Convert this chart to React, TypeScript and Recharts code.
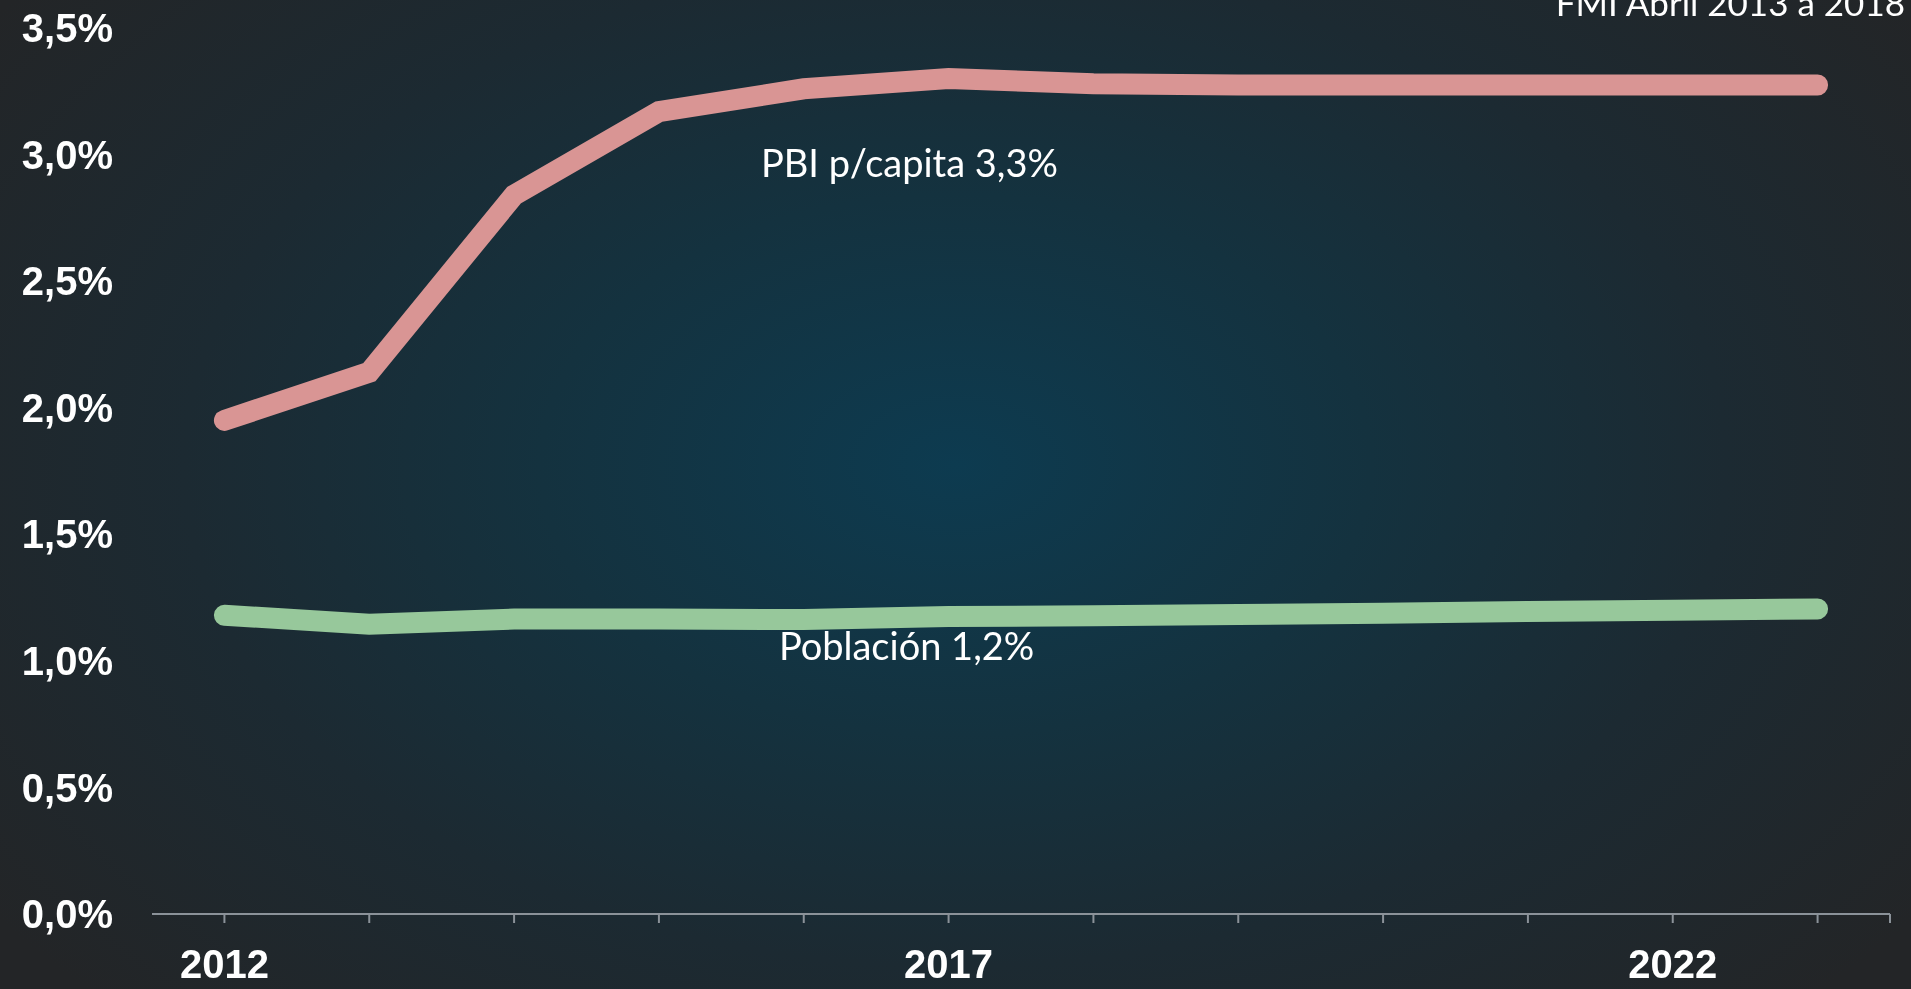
import { LineChart, Line, XAxis, YAxis, ReferenceDot } from "recharts";

const years = [2012, 2013, 2014, 2015, 2016, 2017, 2018, 2019, 2020, 2021, 2022, 2023];
const pbiPerCapita = [1.95, 2.14, 2.84, 3.17, 3.26, 3.3, 3.28, 3.275, 3.275, 3.275, 3.275, 3.275];
const poblacion = [1.18, 1.145, 1.165, 1.165, 1.163, 1.175, 1.178, 1.183, 1.188, 1.195, 1.2, 1.205];
const xTicks = [2012, 2013, 2014, 2015, 2016, 2017, 2018, 2019, 2020, 2021, 2022, 2023, 2023.5];
const xLabelYears = [2012, 2017, 2022];
const yTicks = [0, 0.5, 1, 1.5, 2, 2.5, 3, 3.5];

const data = years.map((year, i) => ({ year, pbi: pbiPerCapita[i], pob: poblacion[i] }));

const W = 1911;
const H = 989;
const axisGray = "#8b9299";
const tickFont = { fill: "#ffffff", fontSize: 40, fontWeight: 700, fontFamily: "'Liberation Sans', Arial, sans-serif" };
const noteFont = "Lato, 'Open Sans', sans-serif";

const fmtPct = (v: number) => v.toFixed(1).replace(".", ",") + "%";

export default function App() {
  return (
    <div
      style={{
        position: "fixed",
        left: 0,
        top: 0,
        width: W,
        height: H,
        overflow: "hidden",
        background:
          "radial-gradient(ellipse 62% 78% at 50% 47%, #0d3b50 0%, #14323f 35%, #1c2a32 65%, #232527 100%)",
      }}
    >
      <LineChart width={W} height={H} data={data} margin={{ top: 28, right: 21, bottom: 0, left: 0 }}>
        <XAxis
          dataKey="year"
          type="number"
          domain={[2011.5, 2023.5]}
          ticks={xTicks}
          interval={0}
          height={75}
          tickSize={9}
          tickMargin={27}
          stroke={axisGray}
          axisLine={{ stroke: axisGray, strokeWidth: 2 }}
          tickLine={{ stroke: axisGray, strokeWidth: 2 }}
          tick={tickFont}
          tickFormatter={(v: number) => (xLabelYears.includes(v) ? String(v) : "")}
        />
        <YAxis
          width={152}
          domain={[0, 3.5]}
          ticks={yTicks}
          interval={0}
          axisLine={false}
          tickLine={false}
          tickSize={6}
          tickMargin={33}
          tick={tickFont}
          tickFormatter={fmtPct}
        />
        <Line
          dataKey="pbi"
          stroke="#d99594"
          strokeWidth={21}
          strokeLinecap="round"
          dot={false}
          activeDot={false}
          isAnimationActive={false}
        />
        <Line
          dataKey="pob"
          stroke="#97c89b"
          strokeWidth={21}
          strokeLinecap="round"
          dot={false}
          activeDot={false}
          isAnimationActive={false}
        />
        <ReferenceDot
          x={2016.73}
          y={2.965}
          r={0}
          ifOverflow="visible"
          label={{ value: "PBI p/capita 3,3%", position: "center", fill: "#ffffff", fontSize: 38, fontFamily: noteFont }}
        />
        <ReferenceDot
          x={2016.71}
          y={1.055}
          r={0}
          ifOverflow="visible"
          label={{ value: "Población 1,2%", position: "center", fill: "#ffffff", fontSize: 38, fontFamily: noteFont }}
        />
      </LineChart>
      <svg width={W} height={H} style={{ position: "absolute", left: 0, top: 0, pointerEvents: "none" }}>
        <text x={1905} y={16} textAnchor="end" fill="#ffffff" fontSize={35} fontFamily={noteFont}>
          FMI Abril 2013 a 2018
        </text>
      </svg>
    </div>
  );
}
